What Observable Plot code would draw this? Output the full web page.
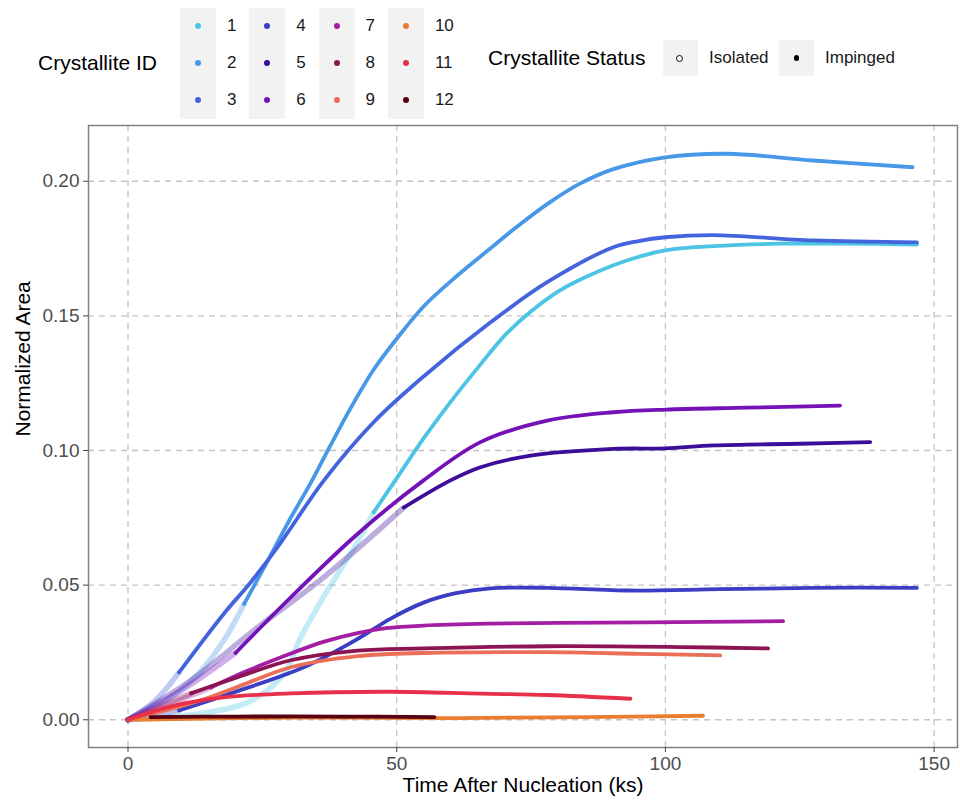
<!DOCTYPE html>
<html><head><meta charset="utf-8">
<script src="https://cdn.jsdelivr.net/npm/d3@7"></script>
<script src="https://cdn.jsdelivr.net/npm/@observablehq/plot@0.6"></script>
<style>
body{margin:0;background:#fff;font-family:"Liberation Sans",Arial,sans-serif;}
#legend{position:relative;width:960px;height:120px;}
.lt{position:absolute;font-size:21px;color:#000;line-height:24px;white-space:nowrap;}
.key{position:absolute;background:#f2f2f2;}
.lab{position:absolute;font-size:17px;line-height:20px;color:#1a1a1a;white-space:nowrap;}
.dot{position:absolute;border-radius:50%;box-sizing:border-box;}
</style></head>
<body><div id="legend"></div><div id="chart"></div>
<script>
// ---- data ----
const crystalIds = [1,2,3,4,5,6,7,8,9,10,11,12];
const statusLabels = ["Isolated", "Impinged"];
// time (ks) at which each crystallite switches from Isolated to Impinged
const impingeTime = [45.7, 21.6, 9.5, 9.5, 51.3, 20, 15.4, 11.7, 0, 0, 0, 0];

const time1 = [0, 13.5, 22.8, 29, 32, 36.5, 42.7, 45.7, 50.1, 55, 60, 65.6, 70, 74.9, 80, 84.2, 92, 100, 110, 121.4, 135, 146.8];
const area1 = [0, 0.0023, 0.007, 0.017, 0.030, 0.046, 0.066, 0.077, 0.090, 0.1045, 0.118, 0.132, 0.1425, 0.1515, 0.159, 0.1635, 0.170, 0.1743, 0.176, 0.1768, 0.1768, 0.1765];
const time2 = [0, 7, 13.5, 18, 21.6, 26, 30, 34, 37.7, 41.5, 45.7, 50, 55, 61.3, 67.4, 72, 78, 84, 90.3, 100, 111.5, 127.5, 146];
const area2 = [0, 0.007, 0.018, 0.030, 0.043, 0.059, 0.074, 0.088, 0.102, 0.116, 0.130, 0.1415, 0.1535, 0.165, 0.175, 0.1825, 0.1915, 0.199, 0.2045, 0.2089, 0.2102, 0.2077, 0.2052];
const time3 = [0, 5, 9.5, 17.8, 22.8, 27.8, 36.5, 45.7, 55, 67.4, 78, 90.3, 95, 100, 109, 127.5, 146.8];
const area3 = [0, 0.007, 0.0176, 0.0393, 0.051, 0.064, 0.089, 0.1105, 0.1275, 0.1475, 0.1625, 0.1755, 0.1778, 0.1792, 0.180, 0.178, 0.1773];
const time4 = [0, 5, 9.5, 19.1, 32.7, 42.7, 48.8, 55, 61, 67.4, 78, 93.5, 110, 127.5, 146.8];
const area4 = [0, 0.0015, 0.0035, 0.0098, 0.0195, 0.030, 0.0375, 0.0435, 0.047, 0.0488, 0.049, 0.048, 0.0485, 0.049, 0.049];
const time5 = [0, 11.7, 24.1, 36.4, 51.3, 60, 65.6, 74.9, 90.3, 100, 109, 125, 138.1];
const area5 = [0, 0.0146, 0.0343, 0.0529, 0.0788, 0.0889, 0.0938, 0.0981, 0.1006, 0.1008, 0.1019, 0.1025, 0.1031];
const time6 = [0, 10, 20, 30.3, 42.7, 55, 65.6, 78, 90.3, 100, 115.2, 132.5];
const area6 = [0, 0.011, 0.0248, 0.0455, 0.069, 0.0889, 0.1031, 0.1111, 0.1142, 0.1152, 0.1159, 0.1167];
const time7 = [0, 8, 15.4, 22, 30.3, 36.5, 42.7, 48, 55, 67.4, 80, 96.6, 121.9];
const area7 = [0, 0.006, 0.012, 0.018, 0.0246, 0.029, 0.0322, 0.034, 0.035, 0.0357, 0.036, 0.0362, 0.0366];
const time8 = [0, 6, 11.7, 20, 30.3, 42.7, 55, 78, 102.8, 119.1];
const area8 = [0, 0.005, 0.0098, 0.0155, 0.0221, 0.0257, 0.0265, 0.0273, 0.027, 0.0265];
const time9 = [0, 13.5, 22, 30.3, 42.7, 55, 78, 95, 110.2];
const area9 = [0, 0.0072, 0.0135, 0.0195, 0.0236, 0.0248, 0.0251, 0.0245, 0.0239];
const time10 = [0, 30, 58, 65.6, 85, 107];
const area10 = [0, 0.0008, 0.0006, 0.0007, 0.001, 0.0015];
const time11 = [0, 8, 17.8, 30.3, 48.8, 65.6, 78, 93.5];
const area11 = [0, 0.005, 0.0083, 0.0098, 0.0104, 0.0097, 0.0092, 0.0078];
const time12 = [4.2, 20, 40, 57];
const area12 = [0.001, 0.0012, 0.0012, 0.001];

const xTicks = [0, 50, 100, 150];
const yTicks = [0, 0.05, 0.10, 0.15, 0.20];
const xTitle = "Time After Nucleation (ks)";
const yTitle = "Normalized Area";
const idTitle = "Crystallite ID";
const statusTitle = "Crystallite Status";

// ---- styles ----
const palette = ["#4cc4e4", "#4898e8", "#4464de", "#3c3cc4", "#3a0e98", "#7412b8",
                 "#a41ea4", "#8c1452", "#ea6e58", "#ea7e30", "#e8304a", "#560010"];

const times = [time1,time2,time3,time4,time5,time6,time7,time8,time9,time10,time11,time12];
const areas = [area1,area2,area3,area4,area5,area6,area7,area8,area9,area10,area11,area12];

// ---- legend (HTML above the SVG) ----
const lg = document.getElementById("legend");
function add(cls, css, text) {
  const e = document.createElement("div");
  e.className = cls; Object.assign(e.style, css);
  if (text != null) e.textContent = text;
  lg.appendChild(e); return e;
}
add("lt", {left: "38px", top: "51px"}, idTitle);
const rowH = 36.7;
crystalIds.forEach((id, i) => {
  const col = Math.floor(i / 3), row = i % 3;
  const bx = 180 + col * 69.3, by = 8 + row * rowH;
  add("key", {left: bx + "px", top: by + "px", width: "36px", height: (rowH + 0.5) + "px"});
  add("dot", {left: (bx + 15) + "px", top: (by + rowH / 2 - 3) + "px", width: "6px", height: "6px", background: palette[i]});
  add("lab", {left: (bx + 47) + "px", top: (by + rowH / 2 - 10) + "px"}, String(id));
});
add("lt", {left: "488px", top: "46px"}, statusTitle);
add("key", {left: "663px", top: "40px", width: "35px", height: "36px"});
add("dot", {left: "676px", top: "54.5px", width: "7px", height: "7px", border: "1.2px solid #000", background: "#fff"});
add("lab", {left: "709px", top: "48px"}, statusLabels[0]);
add("key", {left: "779px", top: "40px", width: "35px", height: "36px"});
add("dot", {left: "793.5px", top: "55px", width: "5.5px", height: "5.5px", background: "#000"});
add("lab", {left: "825px", top: "48px"}, statusLabels[1]);

// ---- chart ----
const marks = [
  Plot.gridX({ticks: xTicks, stroke: "#c4c4c4", strokeOpacity: 1, strokeWidth: 1.3, strokeDasharray: "6,5"}),
  Plot.gridY({ticks: yTicks, stroke: "#c4c4c4", strokeOpacity: 1, strokeWidth: 1.3, strokeDasharray: "6,5"})
];
crystalIds.forEach((id, i) => {
  const pts = times[i].map((t, j) => ({id, t, a: areas[i][j]}));
  const sw = impingeTime[i];
  const iso = pts.filter(d => d.t <= sw);
  const imp = pts.filter(d => d.t >= sw);
  if (iso.length > 1) marks.push(Plot.line(iso, {x: "t", y: "a", stroke: palette[i], strokeOpacity: 0.34, strokeWidth: 5.5, curve: "catmull-rom", strokeLinecap: "round"}));
  if (imp.length > 1) marks.push(Plot.line(imp, {x: "t", y: "a", stroke: palette[i], strokeWidth: 3.8, curve: "catmull-rom", strokeLinecap: "round"}));
});
marks.push(
  Plot.frame({stroke: "#808080", strokeWidth: 1.5}),
  Plot.axisX({ticks: xTicks, tickSize: 5, tickPadding: 4, fontSize: 19, label: null, stroke: "#444", fill: "#4d4d4d"}),
  Plot.axisY({ticks: yTicks, tickSize: 5, tickPadding: 4, fontSize: 19, label: null, tickFormat: d3.format(".2f"), stroke: "#444", fill: "#4d4d4d"}),
  Plot.text([xTitle], {text: d => d, frameAnchor: "bottom", dy: 44, fontSize: 21, fill: "#000"}),
  Plot.text([yTitle], {text: d => d, frameAnchor: "left", rotate: -90, dx: -65, fontSize: 21, fill: "#000"})
);

const chart = Plot.plot({
  width: 960, height: 680,
  marginTop: 5, marginRight: 3, marginBottom: 53, marginLeft: 88,
  x: {domain: [-7.35, 154.35]},
  y: {domain: [-0.0103, 0.2207]},
  style: {fontFamily: "Liberation Sans, Arial, sans-serif", background: "#fff", overflow: "visible"},
  marks
});
document.getElementById("chart").appendChild(chart);
</script></body></html>
